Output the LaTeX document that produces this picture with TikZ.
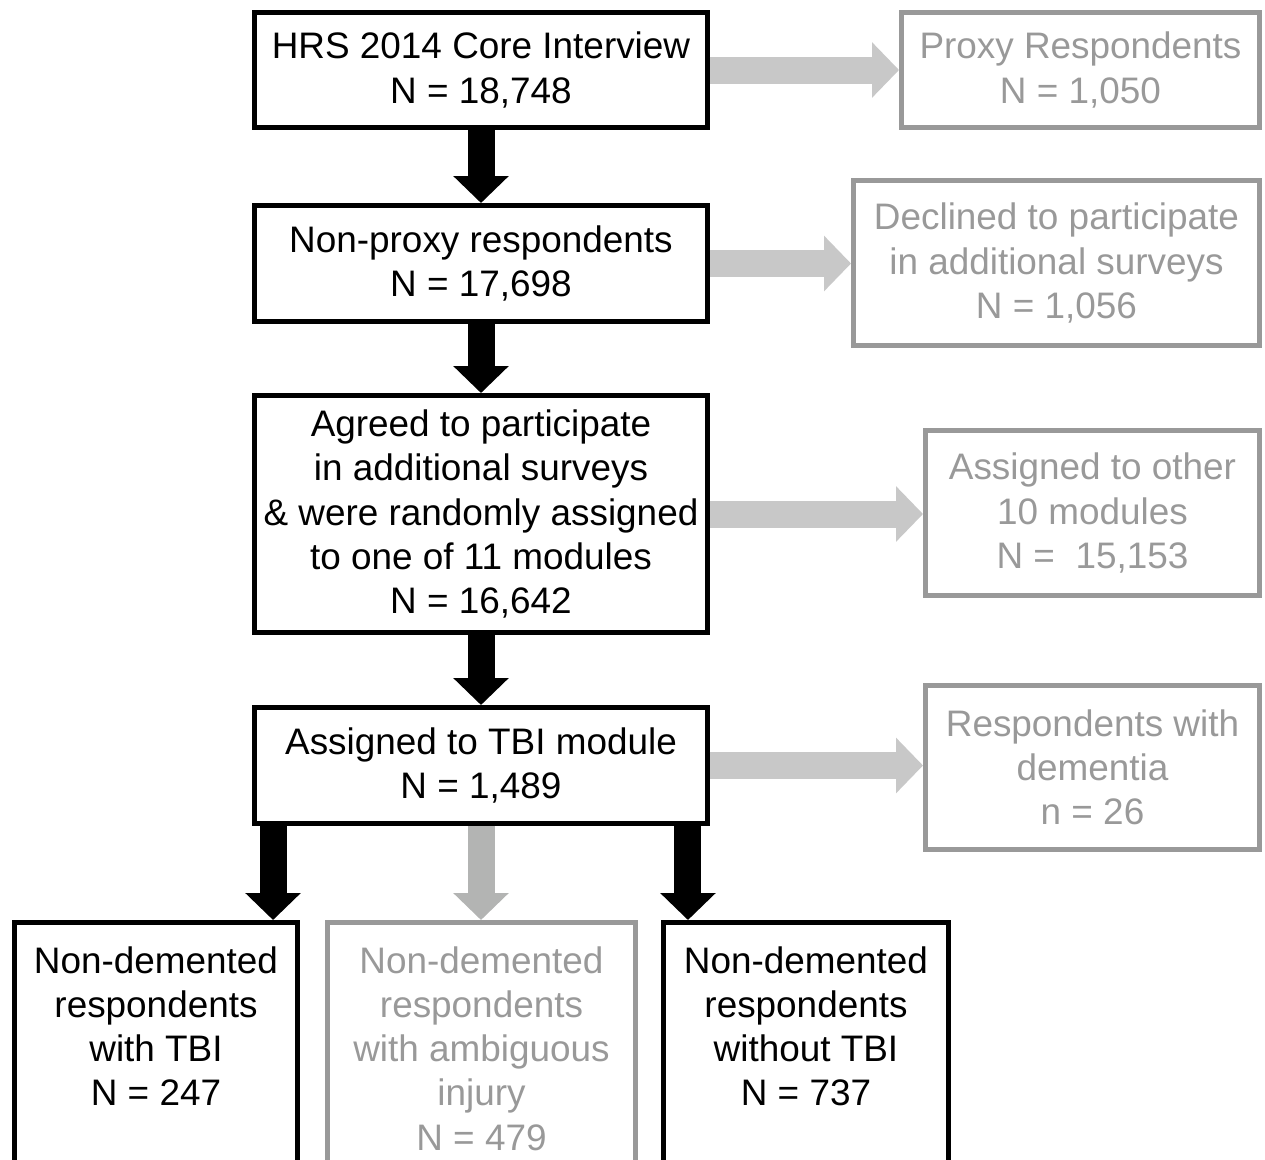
\documentclass[tikz,border=0pt]{standalone}
\usepackage{fontspec}
\setmainfont{Liberation Sans}
\usetikzlibrary{arrows.meta,calc}
\definecolor{boxgray}{HTML}{999999}
\definecolor{arrgray}{HTML}{C8C8C8}
\definecolor{midgray}{HTML}{B3B4B3}
\tikzset{
	flowbox/.style={draw=black, line width=0.1cm, inner sep=0pt, align=center,
		font=\fontsize{21}{25.2}\selectfont},
	sidebox/.style={flowbox, draw=boxgray, text=boxgray},
	bottombox/.style={flowbox, anchor=north, text height=0.54cm, text depth=6cm, inner ysep=0.47cm},
	darrow/.style={line width=0.54cm, -{Triangle[width=1.08cm,length=0.54cm]}},
}
\newcommand{\toplines}[1]{\parbox[t]{5.5cm}{\centering #1}}

\begin{document}
\begin{tikzpicture}[x=0.02cm, y=-0.02cm]
			\useasboundingbox (0,0) rectangle (1265,1160);

			% main column
			\node[flowbox, minimum width=9.06cm, minimum height=2.3cm] (hrs) at (481,70) {HRS 2014 Core Interview\\N = 18,748};
			\node[flowbox, minimum width=9.06cm, minimum height=2.32cm] (nonproxy) at (481,263.5) {Non-proxy respondents\\N = 17,698};
			\node[flowbox, minimum width=9.06cm, minimum height=4.74cm] (agreed) at (481,514) {Agreed to participate\\in additional surveys\\\& were randomly assigned\\to one of 11 modules\\N = 16,642};
			\node[flowbox, minimum width=9.06cm, minimum height=2.32cm] (tbi) at (481,765.5) {Assigned to TBI module\\N = 1,489};

			% excluded
			\node[sidebox, minimum width=7.16cm, minimum height=2.3cm] (proxy) at (1080.5,70) {Proxy Respondents\\N = 1,050};
			\node[sidebox, minimum width=8.12cm, minimum height=3.3cm] (declined) at (1056.5,263) {Declined to participate\\in additional surveys\\N = 1,056};
			\node[sidebox, minimum width=6.68cm, minimum height=3.3cm] (other) at (1092.5,513) {Assigned to other\\10 modules\\N = \ 15,153};
			\node[sidebox, minimum width=6.68cm, minimum height=3.28cm] (dementia) at (1092.5,767.5) {Respondents with\\dementia\\n = 26};

			% outcome groups
			\node[bottombox, minimum width=5.66cm] (withtbi) at (156,920) {\toplines{Non-demented\\respondents\\with TBI\\N = 247}};
			\node[bottombox, draw=boxgray, text=boxgray, minimum width=6.16cm] (ambig) at (481.5,920) {\toplines{Non-demented\\respondents\\with ambiguous\\injury\\N = 479}};
			\node[bottombox, minimum width=5.7cm] (notbi) at (806,920) {\toplines{Non-demented\\respondents\\without TBI\\N = 737}};

			\draw[darrow] (hrs) -- (nonproxy);
			\draw[darrow] (nonproxy) -- (agreed);
			\draw[darrow] (agreed) -- (tbi);

			\draw[darrow, arrgray] (hrs) -- (proxy);
			\draw[darrow, arrgray] (nonproxy.east) -- (nonproxy.east -| declined.west);
			\draw[darrow, arrgray] (agreed) -- (agreed -| other.west);
			\draw[darrow, arrgray] (tbi) -- (tbi -| dementia.west);

			\coordinate (tbileft) at ($(tbi.south west)+(21,0)$);
			\coordinate (tbiright) at ($(tbi.south east)+(-22,0)$);
			\draw[darrow] (tbileft) -- (tbileft |- withtbi.north);
			\draw[darrow, midgray] (tbi.south) -- (tbi.south |- ambig.north);
			\draw[darrow] (tbiright) -- (tbiright |- notbi.north);
\end{tikzpicture}
\end{document}
